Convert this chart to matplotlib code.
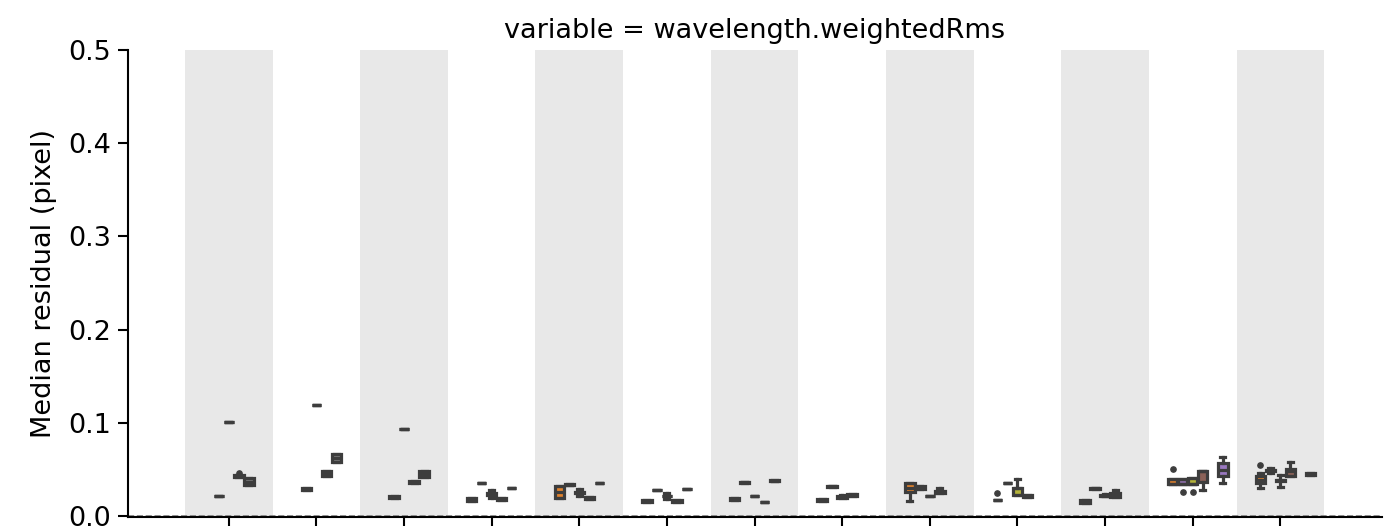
import matplotlib
matplotlib.use("Agg")
import matplotlib.pyplot as plt

# data: one entry per box (category index, hue slot, stats)
box_cat = [0, 0, 0, 0,
           1, 1, 1, 1,
           2, 2, 2, 2,
           3, 3, 3, 3, 3,
           4, 4, 4, 4, 4,
           5, 5, 5, 5, 5,
           6, 6, 6, 6, 6,
           7, 7, 7, 7,
           8, 8, 8, 8,
           9, 9, 9, 9,
           10, 10, 10, 10,
           11, 11, 11, 11, 11,
           12, 12, 12, 12, 12]
box_hue = [2, 3, 4, 5,
           2, 3, 4, 5,
           2, 3, 4, 5,
           1, 2, 3, 4, 5,
           1, 2, 3, 4, 5,
           1, 2, 3, 4, 5,
           1, 2, 3, 4, 5,
           1, 2, 3, 4,
           1, 2, 3, 4,
           1, 2, 3, 4,
           1, 2, 3, 4,
           1, 2, 3, 4, 6,
           1, 2, 3, 4, 6]
box_med = [0.0215, 0.101, 0.043, 0.037,
           0.029, 0.119, 0.046, 0.062,
           0.0207, 0.0933, 0.0365, 0.045,
           0.0172, 0.0354, 0.0236, 0.018, 0.030,
           0.026, 0.0335, 0.025, 0.019, 0.0354,
           0.016, 0.028, 0.0215, 0.016, 0.029,
           0.018, 0.0365, 0.0215, 0.015, 0.038,
           0.0172, 0.032, 0.020, 0.0225,
           0.030, 0.031, 0.0215, 0.026,
           0.017, 0.0357, 0.030, 0.0215,
           0.016, 0.0297, 0.0215, 0.0225,
           0.034, 0.034, 0.034, 0.0485, 0.0497,
           0.0385, 0.049, 0.0386, 0.048, 0.045]
box_q1 = [0.021, 0.1007, 0.0415, 0.0335,
          0.0275, 0.1187, 0.0435, 0.058,
          0.0197, 0.0930, 0.035, 0.0415,
          0.0157, 0.0352, 0.023, 0.017, 0.0298,
          0.0198, 0.033, 0.0245, 0.018, 0.0352,
          0.015, 0.0278, 0.021, 0.0152, 0.0288,
          0.017, 0.036, 0.0212, 0.0148, 0.0378,
          0.016, 0.0317, 0.0195, 0.021,
          0.0263, 0.0295, 0.0212, 0.025,
          0.0168, 0.0355, 0.023, 0.020,
          0.0145, 0.029, 0.021, 0.0205,
          0.034, 0.034, 0.034, 0.0367, 0.0425,
          0.035, 0.0485, 0.038, 0.043, 0.0445]
box_q3 = [0.022, 0.1013, 0.044, 0.041,
          0.0305, 0.1193, 0.0485, 0.0665,
          0.0217, 0.0936, 0.038, 0.0485,
          0.019, 0.0356, 0.0245, 0.0195, 0.0302,
          0.0327, 0.034, 0.0255, 0.0205, 0.0356,
          0.017, 0.0282, 0.022, 0.0172, 0.0292,
          0.0195, 0.037, 0.0218, 0.0152, 0.0382,
          0.0185, 0.0323, 0.021, 0.024,
          0.035, 0.0325, 0.0218, 0.027,
          0.0172, 0.0359, 0.0305, 0.023,
          0.0175, 0.0305, 0.0225, 0.0245,
          0.0395, 0.0400, 0.0405, 0.0485, 0.057,
          0.0425, 0.0495, 0.039, 0.051, 0.046]
box_lo = [0.021, 0.1007, 0.0415, 0.0335,
          0.0275, 0.1187, 0.0435, 0.058,
          0.0197, 0.0930, 0.035, 0.0415,
          0.0157, 0.0352, 0.0195, 0.017, 0.0298,
          0.0198, 0.033, 0.021, 0.018, 0.0352,
          0.015, 0.0278, 0.018, 0.0152, 0.0288,
          0.017, 0.036, 0.0212, 0.0148, 0.0378,
          0.016, 0.0317, 0.0195, 0.021,
          0.0164, 0.0295, 0.0212, 0.025,
          0.0168, 0.0355, 0.023, 0.020,
          0.0145, 0.029, 0.021, 0.0205,
          0.034, 0.034, 0.034, 0.028, 0.036,
          0.0297, 0.046, 0.0315, 0.043, 0.0445]
box_hi = [0.022, 0.1013, 0.044, 0.041,
          0.0305, 0.1193, 0.0485, 0.0665,
          0.0217, 0.0936, 0.038, 0.0485,
          0.019, 0.0356, 0.0275, 0.0195, 0.0302,
          0.0327, 0.034, 0.029, 0.0205, 0.0356,
          0.017, 0.0282, 0.025, 0.0172, 0.0292,
          0.0195, 0.037, 0.0218, 0.0152, 0.0382,
          0.0185, 0.0323, 0.023, 0.024,
          0.036, 0.0325, 0.0218, 0.030,
          0.0172, 0.0359, 0.0394, 0.023,
          0.0175, 0.0305, 0.024, 0.028,
          0.0395, 0.0400, 0.0405, 0.0485, 0.0636,
          0.0458, 0.052, 0.044, 0.0576, 0.046]

# outliers: (box index, value)
flier_box = [2, 40, 48, 49, 50, 53]
flier_val = [0.0465, 0.0247, 0.050, 0.0254, 0.0254, 0.0545]

n_cat = 13
n_hue = 7
hue_colors = ['#3274a1', '#e1812c', '#9372b2', '#b5b43a',
              '#8c6258', '#7f7f7f', '#9a78c0']
line_col = '#3d3d3d'

fig = plt.figure(figsize=(13.87, 5.26), dpi=100)
ax = fig.add_axes([128 / 1387, 9 / 526, 1254 / 1387, 467 / 526])

# alternating grey bands
for k in range(0, n_cat, 2):
    ax.axvspan(k - 0.5, k + 0.5, color='#e8e8e8', lw=0, zorder=0)

slot = 0.8 / n_hue
stats = []
positions = []
for i in range(len(box_cat)):
    fl = [v for b, v in zip(flier_box, flier_val) if b == i]
    stats.append(dict(med=box_med[i], q1=box_q1[i], q3=box_q3[i],
                      whislo=box_lo[i], whishi=box_hi[i], fliers=fl))
    positions.append(box_cat[i] - 0.4 + slot * (box_hue[i] + 0.5))

bp = ax.bxp(stats, positions=positions, widths=slot * 0.95, patch_artist=True,
            showfliers=True, capwidths=slot * 0.5,
            boxprops=dict(edgecolor=line_col, linewidth=2.3),
            medianprops=dict(color=line_col, linewidth=2.3),
            whiskerprops=dict(color=line_col, linewidth=2.3),
            capprops=dict(color=line_col, linewidth=2.3),
            flierprops=dict(marker='o', markersize=3.8, markerfacecolor=line_col,
                            markeredgecolor=line_col))
for patch, h in zip(bp['boxes'], box_hue):
    patch.set_facecolor(hue_colors[h])

ax.axhline(0, color='grey', ls='--', lw=1.2, zorder=1)

ax.set_xlim(-1.15, 13.16)
ax.set_ylim(-0.001, 0.5)
ax.set_xticks(range(n_cat))
ax.set_xticklabels([''] * n_cat)
ax.set_yticks([0.0, 0.1, 0.2, 0.3, 0.4, 0.5])
ax.set_yticklabels(['0.0', '0.1', '0.2', '0.3', '0.4', '0.5'])
ax.tick_params(axis='both', labelsize=19.5, length=7, width=1.5, pad=5)
ax.tick_params(axis='x', length=12)
for s in ['top', 'right']:
    ax.spines[s].set_visible(False)
for s in ['left', 'bottom']:
    ax.spines[s].set_linewidth(1.5)

ax.set_ylabel("Median residual (pixel)", fontsize=19.5, labelpad=8)
ax.set_title("variable = wavelength.weightedRms", fontsize=19.5, pad=9)

fig.savefig("out.png", dpi=100)
